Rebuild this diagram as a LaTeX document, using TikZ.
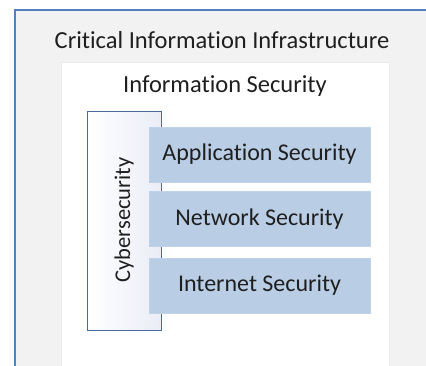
\documentclass[tikz,border=0pt]{standalone}
\usepackage{fontspec}
\setmainfont{Carlito}[Ligatures=NoCommon]
\usetikzlibrary{positioning}
\definecolor{frameblue}{HTML}{4F81BD}
\definecolor{framegray}{HTML}{F2F2F2}
\definecolor{cyberedge}{HTML}{4A6A9E}
\definecolor{cyberfill}{HTML}{EAEDF7}
\definecolor{layerblue}{HTML}{B9CDE5}
\definecolor{textdark}{HTML}{1F1F1F}
\tikzset{
  outerbox/.style={draw=frameblue,fill=framegray,line width=1.2pt},
  innerbox/.style={draw=white!92!black,fill=white,line width=0.4pt},
  cyberbox/.style={draw=cyberedge,line width=1pt,left color=white,right color=cyberfill,shading angle=90},
  layerbox/.style={fill=layerblue,draw=layerblue!90!white,line width=0.5pt,text=textdark,font=\fontsize{24}{26}\selectfont,minimum width=221pt,minimum height=55pt,inner sep=0pt},
  titletext/.style={text=textdark,font=\fontsize{24.5}{27}\selectfont,inner sep=0pt}
}
\begin{document}
\begin{tikzpicture}[x=1pt,y=-1pt]
\useasboundingbox (0,0) rectangle (426,365);
\clip (0,0) rectangle (426,365);
% frames
\fill[outerbox] (15,10) rectangle (440,380);
\fill[innerbox] (61,62) rectangle (389,380);
\node[titletext] (cii) at (222,40) {Critical Information Infrastructure};
\node[titletext] (infosec) at (225,86) {Information Security};
% cybersecurity column
\draw[cyberbox] (87,111) rectangle (161,330);
\node[titletext,font=\fontsize{22.5}{25}\selectfont,rotate=90] (cyber) at (124,220) {Cybersecurity};
% security layers
\node[layerbox] (app) at (259.5,154.5) {Application Security};
\node[layerbox] (net) at (259.5,219) {Network Security};
\node[layerbox] (inet) at (259.5,285.5) {Internet Security};
\end{tikzpicture}
\end{document}
